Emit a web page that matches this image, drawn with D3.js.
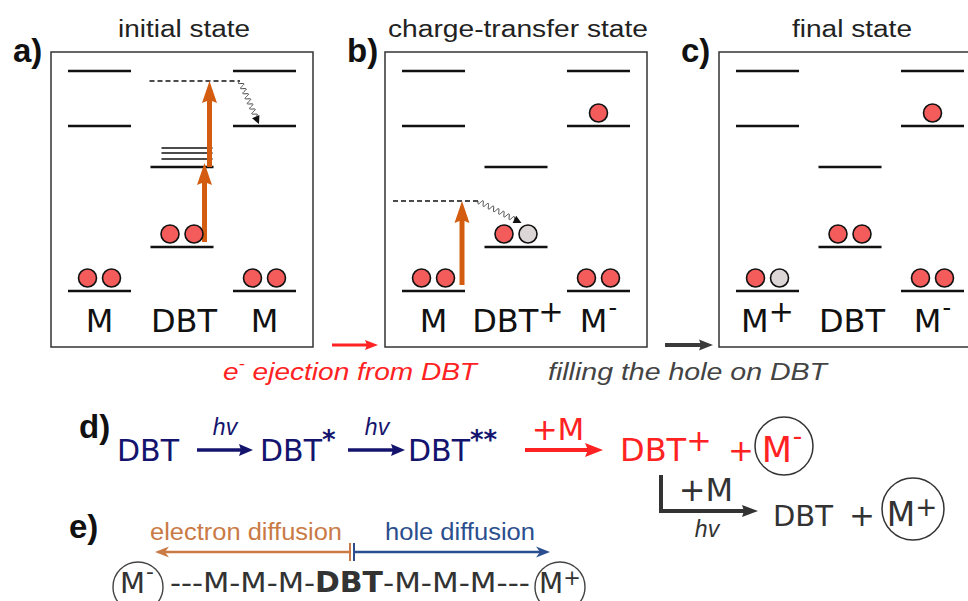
<!DOCTYPE html>
<html>
<head>
<meta charset="utf-8">
<script src="https://cdn.jsdelivr.net/npm/d3@7"></script>
<style>
  body { margin: 0; background: #fff; }
  svg { display: block; }
</style>
</head>
<body>
<script>
// panels a-c
var panels = ['a', 'b', 'c'];
var panelTitles = ['initial state', 'charge-transfer state', 'final state'];
var titleWidths = [132, 260, 120];
var columns = ['left', 'mid', 'right'];
var columnNames = ['M', 'DBT', 'M'];
var columnCharges = [['', '', ''], ['', '+', '-'], ['+', '', '-']];

// energies in arbitrary units (0 = lowest M level)
var mLevels = [0, 165, 220];
var dbtLevels = [44, 124];
var dbtVibLevels = [132, 138, 143];

// occupations: e = electron, h = hole
var occupations = [
  { panel: 'a', col: 'left', e: 0, fill: ['e', 'e'] },
  { panel: 'a', col: 'mid', e: 44, fill: ['e', 'e'] },
  { panel: 'a', col: 'right', e: 0, fill: ['e', 'e'] },
  { panel: 'b', col: 'left', e: 0, fill: ['e', 'e'] },
  { panel: 'b', col: 'mid', e: 44, fill: ['e', 'h'] },
  { panel: 'b', col: 'right', e: 0, fill: ['e', 'e'] },
  { panel: 'b', col: 'right', e: 165, fill: ['e'] },
  { panel: 'c', col: 'left', e: 0, fill: ['e', 'h'] },
  { panel: 'c', col: 'mid', e: 44, fill: ['e', 'e'] },
  { panel: 'c', col: 'right', e: 0, fill: ['e', 'e'] },
  { panel: 'c', col: 'right', e: 165, fill: ['e'] }
];

// photo-excitations (orange arrows) and virtual states (dashed)
var excitations = [
  { panel: 'a', col: 'mid', from: 49, to: 128 },
  { panel: 'a', col: 'mid', from: 124, to: 210 },
  { panel: 'b', col: 'left', from: 6, to: 90 }
];
var virtualStates = [
  { panel: 'a', col: 'mid', e: 210 },
  { panel: 'b', col: 'left', e: 90 }
];
var relaxations = [
  { panel: 'a', from: 210, to: 167 },
  { panel: 'b', from: 90, to: 68 }
];

var captions = ['ejection from DBT', 'filling the hole on DBT'];

var W = 968, H = 601;
var navy = '#14146e', red = '#ff2222', dark = '#333333';
var orange = '#d45c10', eColor = '#f45c5c', hColor = '#ddd6d6';

var svg = d3.select('body').append('svg').attr('width', W).attr('height', H);

var panelX = d3.scaleBand().domain(panels).range([51, 981]).paddingInner(0.2156);
var colX = d3.scaleBand().domain(columns).range([17, 245]).paddingInner(0.236);
var yE = d3.scaleLinear().domain([0, 220]).range([291, 71]);
var boxTop = 52, boxBottom = 347;

function arrow(g, x1, y1, x2, y2, color, w, headLen, headW, notch) {
  notch = notch || 0;
  var len = Math.hypot(x2 - x1, y2 - y1), ux = (x2 - x1) / len, uy = (y2 - y1) / len;
  var bx = x2 - ux * headLen, by = y2 - uy * headLen;
  g.append('line')
    .attr('x1', x1).attr('y1', y1)
    .attr('x2', bx + ux * notch).attr('y2', by + uy * notch)
    .attr('stroke', color).attr('stroke-width', w);
  var px = -uy * headW / 2, py = ux * headW / 2;
  g.append('path')
    .attr('d', 'M' + x2 + ',' + y2 + 'L' + (bx + px) + ',' + (by + py) +
      'L' + (bx + ux * notch) + ',' + (by + uy * notch) +
      'L' + (bx - px) + ',' + (by - py) + 'Z')
    .attr('fill', color);
}

function wavy(g, x1, y1, x2, y2) {
  var len = Math.hypot(x2 - x1, y2 - y1), ux = (x2 - x1) / len, uy = (y2 - y1) / len;
  var headLen = 8, wl = len - headLen, waves = Math.round(wl / 5.5);
  var pts = d3.range(0, 1.0001, 0.01).map(function (t) {
    var s = t * wl, off = 2.5 * Math.sin(t * waves * 2 * Math.PI);
    return [x1 + ux * s - uy * off, y1 + uy * s + ux * off];
  });
  g.append('path').attr('d', d3.line()(pts))
    .attr('fill', 'none').attr('stroke', '#444').attr('stroke-width', 1);
  var bx = x2 - ux * headLen, by = y2 - uy * headLen;
  g.append('path')
    .attr('d', 'M' + x2 + ',' + y2 + 'L' + (bx - uy * 4) + ',' + (by + ux * 4) +
      'L' + (bx + uy * 4) + ',' + (by - ux * 4) + 'Z')
    .attr('fill', '#111');
}

// text with an optional superscript piece
function label(g, x, y, main, sup, opts) {
  var t = g.append('text').attr('x', x).attr('y', y)
    .attr('font-family', opts.family || 'DejaVu Sans')
    .attr('font-size', opts.size)
    .attr('font-weight', opts.weight || 'normal')
    .attr('font-style', opts.style || 'normal')
    .attr('fill', opts.color || '#111')
    .attr('text-anchor', opts.anchor || 'start');
  t.append('tspan').text(main);
  if (sup) {
    var minus = sup === '-';
    var supScale = opts.supScale || 0.95;
    t.append('tspan')
      .attr('dy', minus ? -opts.size * 0.5 : -opts.size * 0.3)
      .attr('font-size', minus ? opts.size * 0.75 : opts.size * supScale)
      .attr('dx', minus ? 1 : 0)
      .text(sup);
  }
  return t;
}

// panels
panels.forEach(function (p, i) {
  var g = svg.append('g').attr('transform', 'translate(' + panelX(p) + ',0)');
  var bw = panelX.bandwidth();
  g.append('rect').attr('x', 0).attr('y', boxTop)
    .attr('width', bw).attr('height', boxBottom - boxTop)
    .attr('fill', 'none').attr('stroke', '#333').attr('stroke-width', 1.5);

  g.append('text').attr('x', bw / 2 + 2).attr('y', 37)
    .attr('text-anchor', 'middle')
    .attr('font-family', 'Liberation Sans, Arial, sans-serif')
    .attr('font-size', 23).attr('fill', '#222')
    .attr('textLength', titleWidths[i]).attr('lengthAdjust', 'spacingAndGlyphs')
    .text(panelTitles[i]);

  g.append('text').attr('x', -38).attr('y', 62)
    .attr('font-family', 'Liberation Sans, Arial, sans-serif')
    .attr('font-size', 33).attr('font-weight', 'bold').attr('fill', '#111')
    .text(p + ')');

  columns.forEach(function (c, j) {
    var levels = c === 'mid' ? dbtLevels : mLevels;
    g.selectAll(null).data(levels).enter().append('line')
      .attr('x1', colX(c)).attr('x2', colX(c) + colX.bandwidth())
      .attr('y1', function (d) { return yE(d); })
      .attr('y2', function (d) { return yE(d); })
      .attr('stroke', '#111').attr('stroke-width', 2.5);
    if (p === 'a' && c === 'mid') {
      g.selectAll(null).data(dbtVibLevels).enter().append('line')
        .attr('x1', colX(c) + 11).attr('x2', colX(c) + colX.bandwidth() - 1)
        .attr('y1', function (d) { return yE(d); })
        .attr('y2', function (d) { return yE(d); })
        .attr('stroke', '#111').attr('stroke-width', 1.3);
    }
    label(g, colX(c) + colX.bandwidth() / 2 + (j === 1 ? 2 : 0), 332,
      columnNames[j], columnCharges[i][j], { size: 32, anchor: 'middle', color: '#111' });
  });

  virtualStates.filter(function (d) { return d.panel === p; }).forEach(function (d) {
    var x1 = d.col === 'mid' ? colX('mid') - 1 : colX('left') - 9;
    var x2 = d.col === 'mid' ? colX('right') + 7 : colX('left') + colX.bandwidth() + 13;
    g.append('line').attr('x1', x1).attr('x2', x2)
      .attr('y1', yE(d.e)).attr('y2', yE(d.e))
      .attr('stroke', '#111').attr('stroke-width', 1.3)
      .attr('stroke-dasharray', '5,3');
  });

  excitations.filter(function (d) { return d.panel === p; }).forEach(function (d, k) {
    var x = colX(d.col) + (p === 'a' ? (k === 0 ? 54 : 59) : 60);
    arrow(g, x, yE(d.from), x, yE(d.to), orange, 5, 22, 15, 3);
  });

  relaxations.filter(function (d) { return d.panel === p; }).forEach(function (d) {
    if (p === 'a') wavy(g, colX('right') + 7, yE(d.from), colX('right') + 26, yE(d.to));
    else wavy(g, colX('left') + colX.bandwidth() + 13, yE(d.from), colX('mid') + 37, yE(d.to));
  });

  occupations.filter(function (d) { return d.panel === p; }).forEach(function (d) {
    var cx = colX(d.col) + colX.bandwidth() / 2;
    var n = d.fill.length;
    g.selectAll(null).data(d.fill).enter().append('circle')
      .attr('cx', function (f, k) { return n === 1 ? cx : cx + (k === 0 ? -12 : 12); })
      .attr('cy', yE(d.e) - 13)
      .attr('r', 9)
      .attr('fill', function (f) { return f === 'e' ? eColor : hColor; })
      .attr('stroke', '#111').attr('stroke-width', 1.6);
  });
});

// transitions between panels
var ga = svg.append('g');
var aRight = panelX('a') + panelX.bandwidth(), bLeft = panelX('b');
var bRight = panelX('b') + panelX.bandwidth(), cLeft = panelX('c');
arrow(ga, aRight + 19, 345, bLeft - 7, 345, red, 3, 13, 10, 2);
arrow(ga, bRight + 18, 345, cLeft - 6, 345, '#3a3a3a', 4, 14, 11, 2);

var cap1 = ga.append('text').attr('x', 223).attr('y', 380)
  .attr('font-family', 'Liberation Sans, Arial, sans-serif')
  .attr('font-size', 24).attr('font-style', 'italic').attr('fill', red)
  .attr('textLength', 254).attr('lengthAdjust', 'spacingAndGlyphs');
cap1.append('tspan').text('e');
cap1.append('tspan').attr('dy', -11).attr('font-size', 16).text('-');
cap1.append('tspan').attr('dy', 11).text(' ' + captions[0]);

ga.append('text').attr('x', 548).attr('y', 380)
  .attr('font-family', 'Liberation Sans, Arial, sans-serif')
  .attr('font-size', 24).attr('font-style', 'italic').attr('fill', '#444')
  .attr('textLength', 279).attr('lengthAdjust', 'spacingAndGlyphs')
  .text(captions[1]);

// d) reaction scheme
var reactionSpecies = ['DBT', 'DBT', 'DBT', 'DBT'];
var reactionMarks = ['', '*', '**', '+'];
var reactionAbove = ['hv', 'hv', '+M'];

var gd = svg.append('g');
gd.append('text').attr('x', 79).attr('y', 438)
  .attr('font-family', 'Liberation Sans, Arial, sans-serif')
  .attr('font-size', 33).attr('font-weight', 'bold').attr('fill', '#111').text('d)');

label(gd, 117, 461, reactionSpecies[0], '', { size: 30, color: navy });
arrow(gd, 197, 450, 253, 450, navy, 3.5, 14, 12, 2);
label(gd, 225, 435, reactionAbove[0], '', { size: 23, family: 'Liberation Sans, Arial', style: 'italic', anchor: 'middle', color: navy });
var t2 = label(gd, 260, 461, reactionSpecies[1], '', { size: 30, color: navy });
t2.append('tspan').attr('dy', -12).attr('font-size', 26).attr('font-weight', 'bold').text(reactionMarks[1]);
arrow(gd, 348, 450, 405, 450, navy, 3.5, 14, 12, 2);
label(gd, 377, 435, reactionAbove[1], '', { size: 23, family: 'Liberation Sans, Arial', style: 'italic', anchor: 'middle', color: navy });
var t3 = label(gd, 408, 461, reactionSpecies[2], '', { size: 30, color: navy });
t3.append('tspan').attr('dy', -12).attr('font-size', 26).attr('font-weight', 'bold').text(reactionMarks[2]);

arrow(gd, 525, 450, 603, 450, red, 4, 18, 14, 3);
label(gd, 558, 440, reactionAbove[2], '', { size: 31, anchor: 'middle', color: red });
label(gd, 620, 461, reactionSpecies[3], reactionMarks[3], { size: 32, color: red });
label(gd, 728, 461, '+', '', { size: 31, color: red });
gd.append('circle').attr('cx', 784).attr('cy', 446).attr('r', 29)
  .attr('fill', 'none').attr('stroke', '#333').attr('stroke-width', 1.5);
label(gd, 782, 462, 'M', '-', { size: 35, anchor: 'middle', color: red });

// second branch
gd.append('path').attr('d', 'M661,475V511H742')
  .attr('fill', 'none').attr('stroke', dark).attr('stroke-width', 4);
arrow(gd, 740, 511, 758, 511, dark, 4, 16, 12, 2);
label(gd, 706, 501, '+M', '', { size: 32, anchor: 'middle', color: dark });
label(gd, 707, 537, 'hv', '', { size: 23, family: 'Liberation Sans, Arial', style: 'italic', anchor: 'middle', color: dark });
label(gd, 773, 526, 'DBT', '', { size: 29, color: dark });
label(gd, 849, 526, '+', '', { size: 31, color: dark });
gd.append('circle').attr('cx', 913).attr('cy', 509).attr('r', 31)
  .attr('fill', 'none').attr('stroke', '#333').attr('stroke-width', 1.5);
label(gd, 912, 526, 'M', '+', { size: 33, anchor: 'middle', color: dark, supScale: 0.8 });

// e) diffusion
var diffusionLabels = ['electron diffusion', 'hole diffusion'];
var chain = ['---M-M-M-', 'DBT', '-M-M-M---'];

var ge = svg.append('g');
ge.append('text').attr('x', 69).attr('y', 538)
  .attr('font-family', 'Liberation Sans, Arial, sans-serif')
  .attr('font-size', 33).attr('font-weight', 'bold').attr('fill', '#111').text('e)');

ge.append('text').attr('x', 150).attr('y', 540)
  .attr('font-family', 'Liberation Sans, Arial, sans-serif').attr('font-size', 23)
  .attr('fill', '#c97a45').attr('textLength', 192).attr('lengthAdjust', 'spacingAndGlyphs')
  .text(diffusionLabels[0]);
ge.append('text').attr('x', 385).attr('y', 540)
  .attr('font-family', 'Liberation Sans, Arial, sans-serif').attr('font-size', 23)
  .attr('fill', '#2b4f8e').attr('textLength', 150).attr('lengthAdjust', 'spacingAndGlyphs')
  .text(diffusionLabels[1]);

arrow(ge, 350, 552, 155, 552, '#c97a45', 2.5, 14, 11, 4);
arrow(ge, 354, 552, 550, 552, '#2b4f8e', 2.5, 14, 11, 4);
ge.append('line').attr('x1', 350).attr('x2', 350).attr('y1', 543).attr('y2', 561)
  .attr('stroke', '#c97a45').attr('stroke-width', 2);
ge.append('line').attr('x1', 354).attr('x2', 354).attr('y1', 543).attr('y2', 561)
  .attr('stroke', '#2b4f8e').attr('stroke-width', 2);

ge.append('circle').attr('cx', 138).attr('cy', 587).attr('r', 25)
  .attr('fill', 'none').attr('stroke', '#444').attr('stroke-width', 1.4);
ge.append('circle').attr('cx', 560).attr('cy', 587).attr('r', 25)
  .attr('fill', 'none').attr('stroke', '#444').attr('stroke-width', 1.4);
label(ge, 137, 593, 'M', '-', { size: 29, anchor: 'middle', color: dark });
label(ge, 560, 593, 'M', '+', { size: 28, anchor: 'middle', color: dark, supScale: 0.75 });

ge.append('text').attr('x', 170).attr('y', 592)
  .attr('font-family', 'DejaVu Sans').attr('font-size', 27).attr('fill', dark)
  .attr('textLength', 145).attr('lengthAdjust', 'spacingAndGlyphs').text(chain[0]);
ge.append('text').attr('x', 315).attr('y', 592)
  .attr('font-family', 'DejaVu Sans').attr('font-size', 28).attr('font-weight', 'bold')
  .attr('fill', dark).attr('textLength', 68).attr('lengthAdjust', 'spacingAndGlyphs').text(chain[1]);
ge.append('text').attr('x', 383).attr('y', 592)
  .attr('font-family', 'DejaVu Sans').attr('font-size', 27).attr('fill', dark)
  .attr('textLength', 147).attr('lengthAdjust', 'spacingAndGlyphs').text(chain[2]);
</script>
</body>
</html>
